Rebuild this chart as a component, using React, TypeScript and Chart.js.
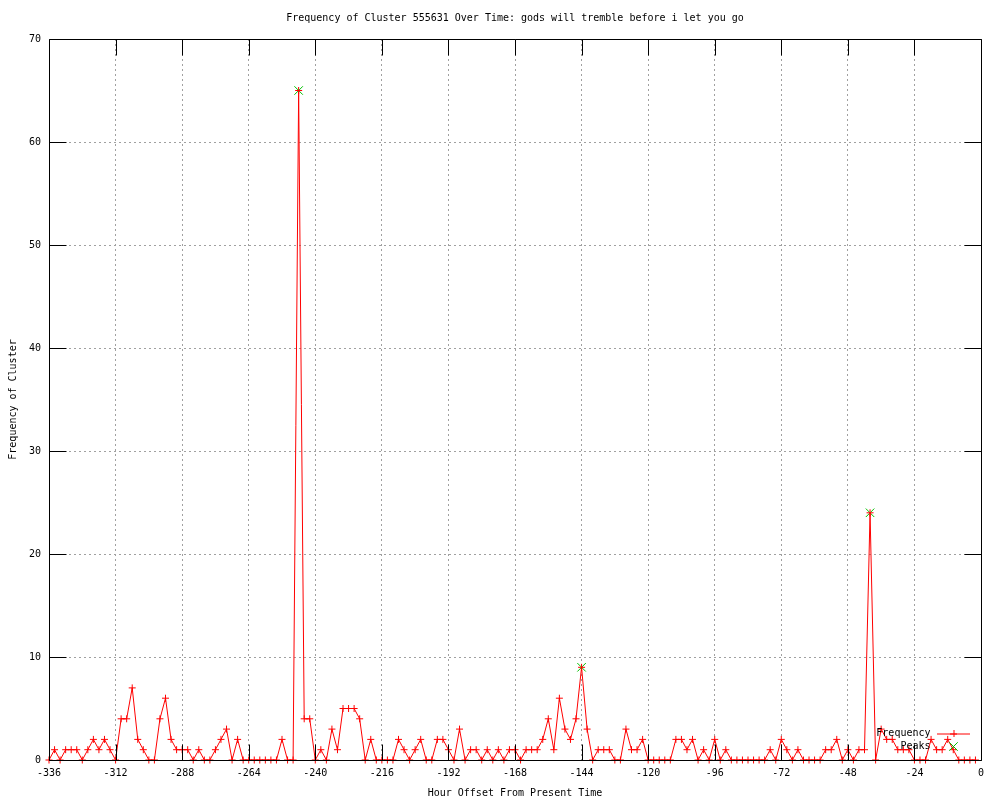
import React, { useEffect, useRef } from "react";
import { Chart, registerables } from "chart.js";

Chart.register(...registerables);

const TITLE = "Frequency of Cluster 555631 Over Time: gods will tremble before i let you go";
const X_TITLE = "Hour Offset From Present Time";
const Y_TITLE = "Frequency of Cluster";

const START_HOUR = -336;
const STEP_HOURS = 2;

const frequency = [
  0, 1, 0, 1, 1, 1, 0, 1, 2, 1, 2, 1, 0, 4, 4, 7, 2, 1, 0, 0, 4, 6, 2, 1, 1, 1, 0, 1,
  0, 0, 1, 2, 3, 0, 2, 0, 0, 0, 0, 0, 0, 0, 2, 0, 0,
  65,
  4, 4, 0, 1, 0, 3, 1, 5, 5, 5, 4,
  0, 2, 0, 0, 0, 0, 2, 1, 0, 1, 2, 0, 0, 2, 2, 1, 0, 3, 0, 1, 1, 0, 1, 0, 1,
  0, 1, 1, 0, 1, 1, 1, 2, 4, 1, 6, 3, 2, 4, 9, 3, 0, 1, 1, 1, 0, 0, 3, 1, 1, 2, 0,
  0, 0, 0, 0, 2, 2, 1, 2, 0, 1, 0, 2, 0, 1, 0, 0, 0, 0, 0, 0, 0, 1, 0, 2, 1, 0, 1,
  0, 0, 0, 0, 1, 1, 2, 0, 1, 0, 1, 1, 24, 0, 3, 2, 2, 1, 1, 1, 0, 0, 0, 2, 1, 1, 2, 1, 0, 0, 0, 0,
];

const peakHours = [-246, -144, -40];
const peakValues = [65, 9, 24];

const X_MIN = -336;
const X_MAX = 0;
const X_STEP = 24;
const Y_MIN = 0;
const Y_MAX = 70;
const Y_STEP = 10;

const RED = "#ff0000";
const GREEN = "#00c000";
const FONT = "'DejaVu Sans Mono', 'Liberation Mono', monospace";

const framePlugin = {
  id: "gnuplotFrame",
  afterDatasetsDraw(chart: any) {
    const { ctx, chartArea: a, scales } = chart;
    const xs = scales.x;
    const ys = scales.y;
    const L = Math.round(a.left) + 0.5;
    const R = Math.round(a.right) + 0.5;
    const T = Math.round(a.top) + 0.5;
    const B = Math.round(a.bottom) + 0.5;
    ctx.save();
    ctx.strokeStyle = "#000";
    ctx.lineWidth = 1;
    ctx.setLineDash([]);
    ctx.beginPath();
    ctx.rect(L, T, R - L, B - T);
    const TLX = 16;
    const TLY = 17;
    xs.ticks.forEach((t: any) => {
      const px = Math.round(xs.getPixelForValue(t.value)) + 0.5;
      ctx.moveTo(px, B);
      ctx.lineTo(px, B - TLX);
      ctx.moveTo(px, T);
      ctx.lineTo(px, T + TLX);
    });
    ys.ticks.forEach((t: any) => {
      const py = Math.round(ys.getPixelForValue(t.value)) + 0.5;
      ctx.moveTo(L, py);
      ctx.lineTo(L + TLY, py);
      ctx.moveTo(R, py);
      ctx.lineTo(R - TLY, py);
    });
    ctx.stroke();

    // key (legend) inside the plot, bottom right
    const textRight = R - 51;
    const sampleX = R - 28;
    const rows = [B - 27, B - 14];
    ctx.font = `10px ${FONT}`;
    ctx.fillStyle = "#000";
    ctx.textAlign = "right";
    ctx.textBaseline = "middle";
    chart.data.datasets.forEach((ds: any, i: number) => {
      const y = rows[i];
      ctx.fillText(ds.label, textRight, y);
      ctx.strokeStyle = ds.borderColor;
      ctx.beginPath();
      if (ds.showLine !== false) {
        ctx.moveTo(sampleX - 16.5, y + 0.5);
        ctx.lineTo(sampleX + 16.5, y + 0.5);
      }
      const r = ds.pointRadius;
      if (ds.pointStyle === "cross") {
        ctx.moveTo(sampleX - r, y + 0.5);
        ctx.lineTo(sampleX + r, y + 0.5);
        ctx.moveTo(sampleX + 0.5, y - r);
        ctx.lineTo(sampleX + 0.5, y + r);
      } else {
        const d = r * Math.SQRT1_2;
        ctx.moveTo(sampleX - d, y - d);
        ctx.lineTo(sampleX + d, y + d);
        ctx.moveTo(sampleX - d, y + d);
        ctx.lineTo(sampleX + d, y - d);
      }
      ctx.stroke();
    });
    ctx.restore();
  },
};

export default function App() {
  const canvasRef = useRef<HTMLCanvasElement | null>(null);

  useEffect(() => {
    document.body.style.margin = "0";
    const canvas = canvasRef.current;
    if (!canvas) return;

    const hours = frequency.map((_, i) => START_HOUR + STEP_HOURS * i);

    Chart.defaults.font.family = FONT;
    Chart.defaults.font.size = 10;
    Chart.defaults.color = "#000";

    const gridColor = (edgeA: number, edgeB: number) => (c: any) =>
      c.tick && (c.tick.value === edgeA || c.tick.value === edgeB) ? "rgba(0,0,0,0)" : "#a0a0a0";

    const chart = new Chart(canvas, {
      type: "line",
      data: {
        datasets: [
          {
            label: "Frequency",
            data: hours.map((h, i) => ({ x: h, y: frequency[i] })),
            borderColor: RED,
            backgroundColor: RED,
            borderWidth: 1,
            pointStyle: "cross",
            pointRadius: 3.5,
            pointBorderWidth: 1,
            pointBorderColor: RED,
            tension: 0,
            fill: false,
            clip: false,
          },
          {
            label: "Peaks",
            data: peakHours.map((h, i) => ({ x: h, y: peakValues[i] })),
            borderColor: GREEN,
            backgroundColor: GREEN,
            showLine: false,
            pointStyle: "crossRot",
            pointRadius: 6,
            pointBorderWidth: 1,
            pointBorderColor: GREEN,
            clip: false,
          },
        ],
      } as any,
      options: {
        responsive: false,
        animation: false,
        devicePixelRatio: 1,
        events: [],
        layout: { padding: { left: 0, right: 19, top: 0, bottom: 0 } },
        plugins: {
          legend: { display: false },
          tooltip: { enabled: false },
          title: {
            display: true,
            text: TITLE,
            fullSize: false,
            color: "#000",
            font: { size: 10, weight: "normal", family: FONT },
            padding: { top: 12, bottom: 15 },
          },
        },
        scales: {
          x: {
            type: "linear",
            min: X_MIN,
            max: X_MAX,
            afterFit: (s: any) => {
              s.height = 40;
            },
            ticks: {
              stepSize: X_STEP,
              autoSkip: false,
              maxRotation: 0,
              padding: 7,
              color: "#000",
              font: { size: 10, family: FONT },
            },
            grid: {
              color: gridColor(X_MIN, X_MAX),
              lineWidth: 1,
              drawTicks: false,
            },
            border: { display: false, dash: [2, 3] },
            title: {
              display: true,
              text: X_TITLE,
              color: "#000",
              font: { size: 10, family: FONT },
              padding: { top: 0, bottom: 1 },
            },
          },
          y: {
            type: "linear",
            min: Y_MIN,
            max: Y_MAX,
            afterFit: (s: any) => {
              s.width = 49;
            },
            ticks: {
              stepSize: Y_STEP,
              padding: 8,
              color: "#000",
              font: { size: 10, family: FONT },
            },
            grid: {
              color: gridColor(Y_MIN, Y_MAX),
              lineWidth: 1,
              drawTicks: false,
            },
            border: { display: false, dash: [2, 3] },
            title: {
              display: true,
              text: Y_TITLE,
              color: "#000",
              font: { size: 10, family: FONT },
              padding: { top: 7, bottom: 0 },
            },
          },
        },
      } as any,
      plugins: [framePlugin],
    });

    return () => chart.destroy();
  }, []);

  return (
    <div style={{ width: 1000, height: 800 }}>
      <canvas ref={canvasRef} width={1000} height={800} style={{ display: "block" }} />
    </div>
  );
}
